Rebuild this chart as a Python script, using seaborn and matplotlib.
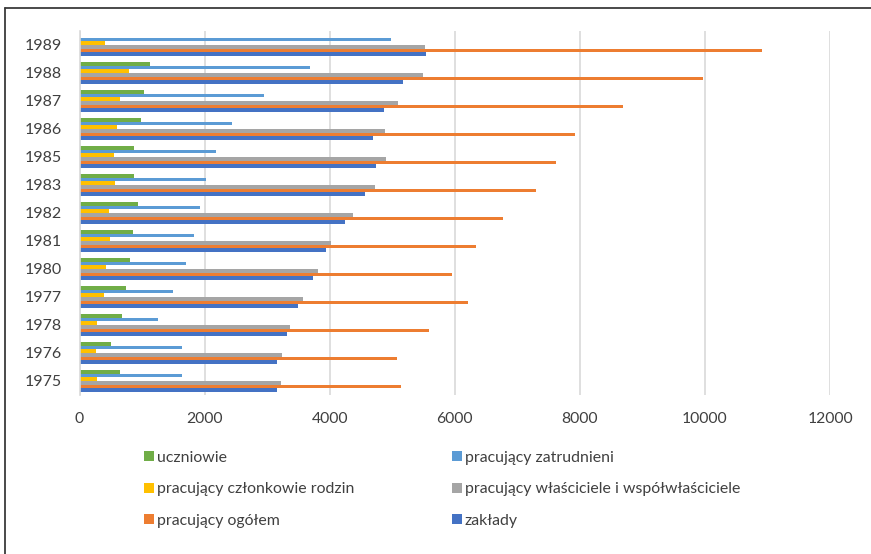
import numpy as np
import pandas as pd
import matplotlib.pyplot as plt
import seaborn as sns
from matplotlib.lines import Line2D

# years in the order shown, top to bottom
years = ['1989', '1988', '1987', '1986', '1985', '1983', '1982',
         '1981', '1980', '1977', '1978', '1976', '1975']

uczniowie = [np.nan, 1120, 1035, 980, 870, 865, 930, 850, 805, 740, 680, 500, 640]
zatrudnieni = [4975, 3690, 2945, 2445, 2185, 2025, 1925, 1825, 1695, 1495, 1250, 1645, 1645]
czlonkowie = [410, 790, 650, 600, 550, 560, 470, 485, 420, 390, 280, 270, 280]
wlasciciele = [5530, 5485, 5100, 4885, 4895, 4725, 4370, 4015, 3815, 3570, 3370, 3240, 3225]
ogolem = [10905, 9965, 8695, 7920, 7625, 7305, 6770, 6335, 5950, 6205, 5595, 5080, 5145]
zaklady = [5540, 5165, 4870, 4695, 4735, 4570, 4250, 3935, 3730, 3490, 3325, 3155, 3155]

series_names = ['uczniowie', 'pracujący zatrudnieni', 'pracujący członkowie rodzin',
                'pracujący właściciele i współwłaściciele', 'pracujący ogółem', 'zakłady']
series_values = [uczniowie, zatrudnieni, czlonkowie, wlasciciele, ogolem, zaklady]
colors = ['#70AD47', '#5B9BD5', '#FFC000', '#A5A5A5', '#ED7D31', '#4472C4']

x_ticks = [0, 2000, 4000, 6000, 8000, 10000, 12000]

df = pd.DataFrame({
    'rok': np.repeat([years], len(series_names), axis=0).ravel(),
    'seria': np.repeat(series_names, len(years)),
    'wartosc': np.concatenate(series_values),
})

sns.set_style('white')
plt.rcParams['font.family'] = ['Lato', 'DejaVu Sans']
text_color = '#404040'

fig = plt.figure(figsize=(8.71, 5.54), dpi=100)
ax = fig.add_axes([79.5 / 871, 1 - 395 / 554, (830 - 79.5) / 871, (395 - 31) / 554])

sns.barplot(data=df, x='wartosc', y='rok', hue='seria', order=years,
            hue_order=series_names, palette=colors, orient='h', saturation=1,
            width=0.8, gap=0, linewidth=0, errorbar=None, ax=ax, legend=True)

ax.set_xlim(0, 12000)
ax.set_xticks(x_ticks)
ax.set_xticklabels([str(t) for t in x_ticks])
ax.set_xlabel('')
ax.set_ylabel('')
ax.grid(axis='x', color='#D9D9D9', linewidth=1.2)
ax.set_axisbelow(True)
for side in ['top', 'right', 'bottom']:
    ax.spines[side].set_visible(False)
ax.spines['left'].set_color('#D9D9D9')
ax.spines['left'].set_linewidth(1.2)
ax.tick_params(axis='both', length=0, colors=text_color)
ax.tick_params(axis='x', pad=12, labelsize=11.3)
ax.tick_params(axis='y', pad=12.5, labelsize=11.5)

handles, labels = ax.get_legend_handles_labels()
ax.get_legend().remove()
idx = [0, 2, 4, 1, 3, 5]
leg = fig.legend([handles[i] for i in idx], [labels[i] for i in idx],
                 ncol=2, loc='upper left', bbox_to_anchor=(144 / 871, 1 - 451 / 554),
                 frameon=False, fontsize=11.4, handlelength=0.6, handleheight=0.6,
                 handletextpad=0.2, columnspacing=6.2, labelspacing=1.1,
                 borderpad=0, borderaxespad=0)
for t in leg.get_texts():
    t.set_color(text_color)

# frame lines of the cropped chart area
fig.add_artist(Line2D([4.5 / 871, 4.5 / 871], [0, 1 - 7.5 / 554],
                      transform=fig.transFigure, color='#3a3a3a', linewidth=1.3))
fig.add_artist(Line2D([4.5 / 871, 1], [1 - 7.5 / 554, 1 - 7.5 / 554],
                      transform=fig.transFigure, color='#3a3a3a', linewidth=1.3))

fig.savefig('out.png', dpi=100)
